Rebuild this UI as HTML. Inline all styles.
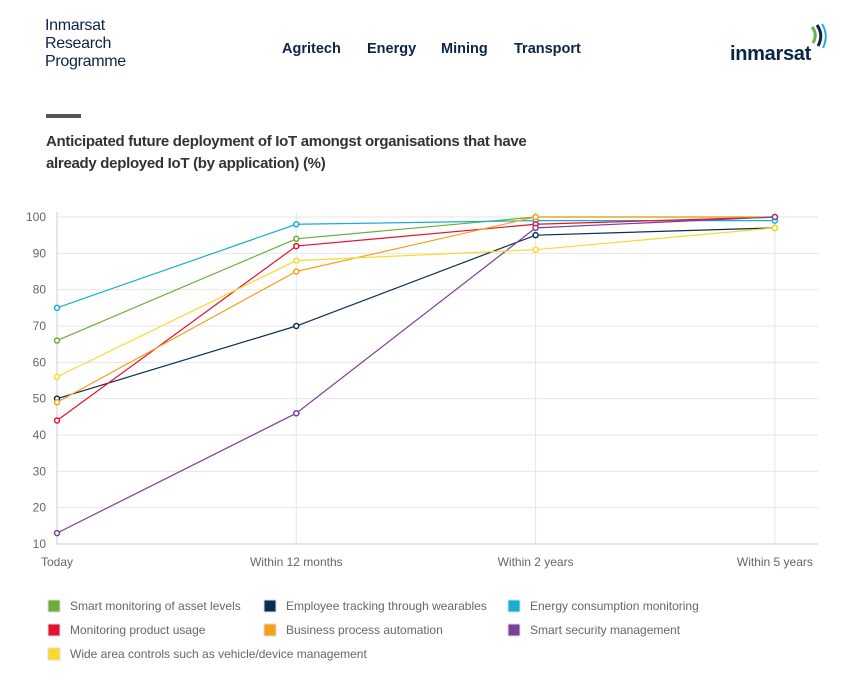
<!DOCTYPE html>
<html><head><meta charset="utf-8"><style>
body{margin:0;width:867px;height:691px;background:#fff;font-family:"Liberation Sans",sans-serif;overflow:hidden;position:relative}
.brand{position:absolute;left:45px;top:17px;font-size:16px;line-height:18px;color:#0b2545;letter-spacing:-0.3px}
.nav{position:absolute;top:41px;font-weight:bold;font-size:14.5px;color:#0b2545}
.logo{position:absolute;left:730px;top:43px;font-weight:bold;font-size:20px;color:#0b2545;letter-spacing:-0.3px}
.bar{position:absolute;left:46px;top:114px;width:35px;height:4px;background:#555}
.title{position:absolute;left:46px;top:131px;font-weight:bold;font-size:15px;line-height:22px;color:#333;letter-spacing:-0.3px}
svg{position:absolute;left:0;top:0}
</style></head><body>
<div class="brand">Inmarsat<br>Research<br>Programme</div>
<div class="nav" style="left:282px">Agritech</div>
<div class="nav" style="left:367px">Energy</div>
<div class="nav" style="left:441px">Mining</div>
<div class="nav" style="left:514px">Transport</div>
<div class="logo">inmarsat</div>
<svg width="867" height="691" style="pointer-events:none">
<path d="M812 27 Q818 34 813 43" stroke="#6ab04c" stroke-width="3" fill="none"/>
<path d="M817 25 Q824 35 818 46" stroke="#0b2545" stroke-width="3" fill="none"/>
<path d="M822 24 Q829 35 823 48" stroke="#29abe2" stroke-width="2" fill="none"/>
</svg>
<div class="bar"></div>
<div class="title">Anticipated future deployment of IoT amongst organisations that have<br>already deployed IoT (by application) (%)</div>
<svg id="chart" width="867" height="691"></svg>
<script>
const categories=["Today","Within 12 months","Within 2 years","Within 5 years"];
const yTicks=[10,20,30,40,50,60,70,80,90,100];
const seriesNames=["Smart monitoring of asset levels","Employee tracking through wearables","Energy consumption monitoring","Monitoring product usage","Business process automation","Smart security management","Wide area controls such as vehicle/device management"];
const colors=["#6aad3d","#0b2d55","#17aed3","#e8112d","#f7a11a","#7b3f98","#fcd82a"];
const sGreen=[66,94,100,100];
const sNavy=[50,70,95,97];
const sCyan=[75,98,99,99];
const sRed=[44,92,98,100];
const sOrange=[49,85,100,100];
const sPurple=[13,46,97,100];
const sYellow=[56,88,91,97];
const allSeries=[sGreen,sNavy,sCyan,sRed,sOrange,sPurple,sYellow];
const NS="http://www.w3.org/2000/svg",svg=document.getElementById('chart');
const x=i=>57+i*239.3, y=v=>544-(v-10)*(327/90);
function mk(t,a){const e=document.createElementNS(NS,t);for(const k in a)e.setAttribute(k,a[k]);svg.appendChild(e);return e;}
yTicks.forEach(v=>{
 const g=mk('line',{x1:57,x2:818,y1:y(v),y2:y(v),stroke:'#e6e6e6'});
 
 
 const t=mk('text',{x:46,y:y(v)+4,'text-anchor':'end','font-size':12,fill:'#666'});t.textContent=v;
 
 
});
categories.forEach((c,i)=>{
 if(i>0){const g=mk('line',{x1:x(i),x2:x(i),y1:212,y2:544,stroke:'#e6e6e6'});
 
 }
 const t=mk('text',{x:x(i),y:566,'text-anchor':'middle','font-size':12,fill:'#666'});t.textContent=c;
 
 
});
const ax=mk('line',{x1:57,x2:57,y1:212,y2:544,stroke:'#ccc'});


const bx=mk('line',{x1:57,x2:818,y1:544,y2:544,stroke:'#ccc'});


allSeries.forEach((s,k)=>{
 const p=mk('polyline',{points:s.map((v,i)=>x(i)+','+y(v)).join(' '),fill:'none',stroke:colors[k],'stroke-width':1.2});
 
 
 s.forEach((v,i)=>{const c=mk('circle',{cx:x(i),cy:y(v),r:2.5,fill:'#fff',stroke:colors[k],'stroke-width':1.5});
 
 });
});
const lx=[48,264,508],ly=[606,630,654];
seriesNames.forEach((n,k)=>{
 const px=lx[k%3],py=ly[Math.floor(k/3)];
 const r=mk('rect',{x:px,y:py-6,width:12,height:12,fill:colors[k],stroke:'#ddd','stroke-width':1});
 
 
 const t=mk('text',{x:px+22,y:py+4,'font-size':12,fill:'#666'});t.textContent=n;
 
 
});
</script>
</body></html>
